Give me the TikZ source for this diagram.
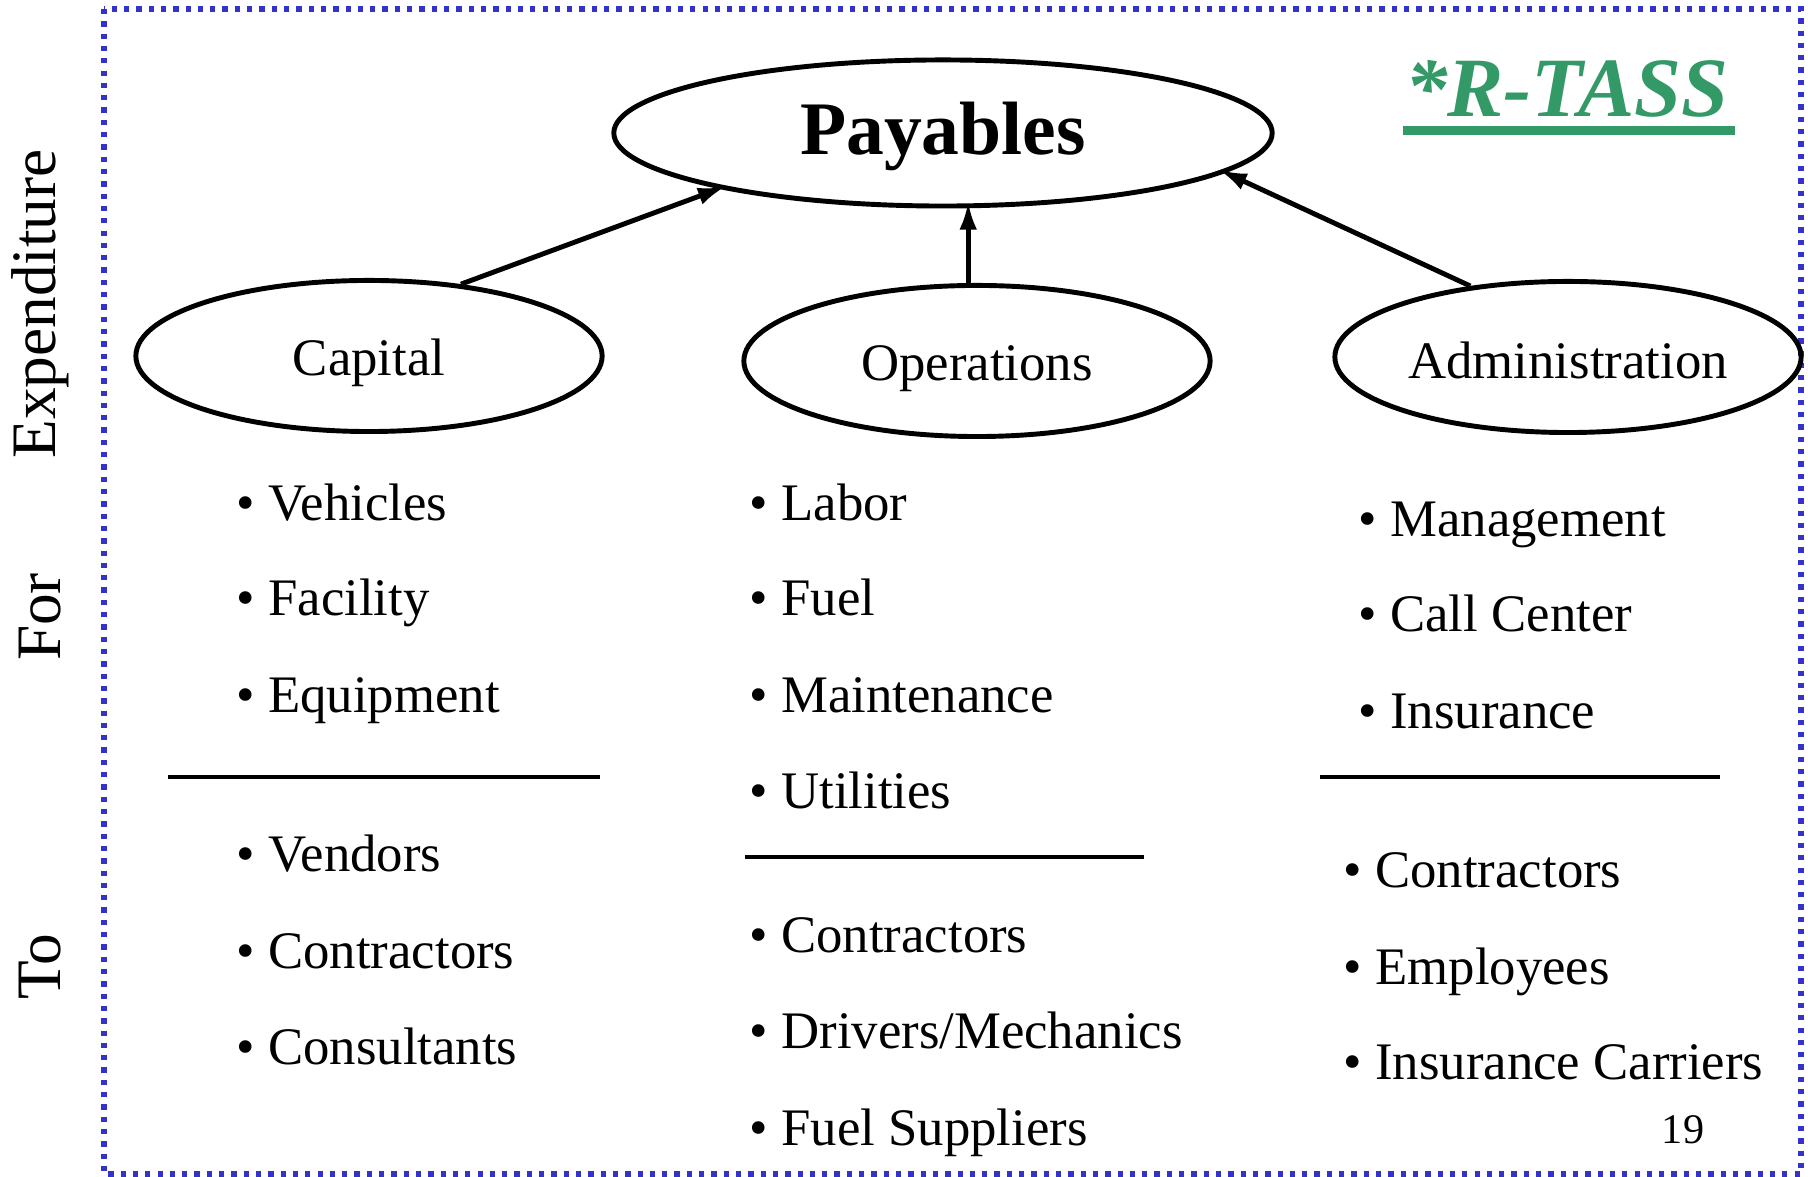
\documentclass[tikz,border=0pt]{standalone}
\usepackage{fontspec}
\setmainfont{Liberation Serif}
\usepackage{xcolor}
\usetikzlibrary{arrows.meta,shapes.geometric}
\definecolor{rtassgreen}{RGB}{51,153,102}
\definecolor{frameblue}{RGB}{51,51,204}

\begin{document}
\begin{tikzpicture}[x=0.01cm,y=-0.01cm,
  oval/.style={draw,ellipse,line width=1.4pt,minimum width=4.66cm,minimum height=1.51cm,inner sep=0pt,text height=14pt,text depth=3pt,font=\fontsize{15}{18}\selectfont},
  item/.style={anchor=base west,inner sep=0pt,font=\fontsize{15}{18}\selectfont},
  sep/.style={line width=1.4pt},
  link/.style={line width=1.4pt,shorten >=-2pt,-{Latex[length=8pt,width=5pt]}},
  side/.style={rotate=90,inner sep=0pt,font=\fontsize{18}{22}\selectfont}]
\useasboundingbox (0,0) rectangle (1808,1177);
\draw[frameblue,line width=1.5pt,dash pattern=on 1.5pt off 2pt] (104,9) rectangle (1801,1174);

\node[side] (expend) at (40,304) {Expenditure};
\node[side] (for) at (40,617) {For};
\node[side] (to) at (40,967) {To};

\node[anchor=base,inner sep=0pt,text=rtassgreen,font=\fontsize{24}{28}\selectfont\bfseries\itshape] (rtass) at (1567,117) {*R-TASS};
\fill[rtassgreen] (1403,126) rectangle (1735,135);

\node[oval,minimum width=6.58cm,minimum height=1.46cm,text height=16.5pt,text depth=4pt,font=\fontsize{21.5}{26}\selectfont\bfseries] (pay) at (943,133) {Payables};
\node[oval] (cap) at (369,356) {Capital};
\node[oval] (ops) at (977,361) {Operations};
\node[oval,text height=15.5pt] (adm) at (1568,357) {Administration};

\coordinate (opstop) at ([xshift=-2.5pt]ops.north);
\draw[link] (cap.38) -- (pay.194);
\draw[link] (opstop) -- (pay.south -| opstop);
\draw[link] (adm.144) -- (pay.352);

\node[item] (veh) at (236,521) {\textbullet\ Vehicles};
\node[item] (fac) at (236,616) {\textbullet\ Facility};
\node[item] (equ) at (236,713) {\textbullet\ Equipment};
\draw[sep] (168,777) -- (600,777);
\node[item] (ven) at (236,872) {\textbullet\ Vendors};
\node[item] (ccon) at (236,969) {\textbullet\ Contractors};
\node[item] (cons) at (236,1065) {\textbullet\ Consultants};

\node[item] (lab) at (749,521) {\textbullet\ Labor};
\node[item] (fuel) at (749,616) {\textbullet\ Fuel};
\node[item] (mnt) at (749,713) {\textbullet\ Maintenance};
\node[item] (utl) at (749,809) {\textbullet\ Utilities};
\draw[sep] (745,857) -- (1144,857);
\node[item] (ocon) at (749,953) {\textbullet\ Contractors};
\node[item] (drv) at (749,1049) {\textbullet\ Drivers/Mechanics};
\node[item] (fsup) at (749,1146) {\textbullet\ Fuel Suppliers};

\node[item] (mgt) at (1358,537) {\textbullet\ Management};
\node[item] (call) at (1358,632) {\textbullet\ Call Center};
\node[item] (ins) at (1358,729) {\textbullet\ Insurance};
\draw[sep] (1320,777) -- (1720,777);
\node[item] (acon) at (1343,888) {\textbullet\ Contractors};
\node[item] (emp) at (1343,985) {\textbullet\ Employees};
\node[item] (icar) at (1343,1080) {\textbullet\ Insurance Carriers};

\node[font=\fontsize{12}{14}\selectfont] (pg) at (1683,1130) {19};
\end{tikzpicture}
\end{document}
